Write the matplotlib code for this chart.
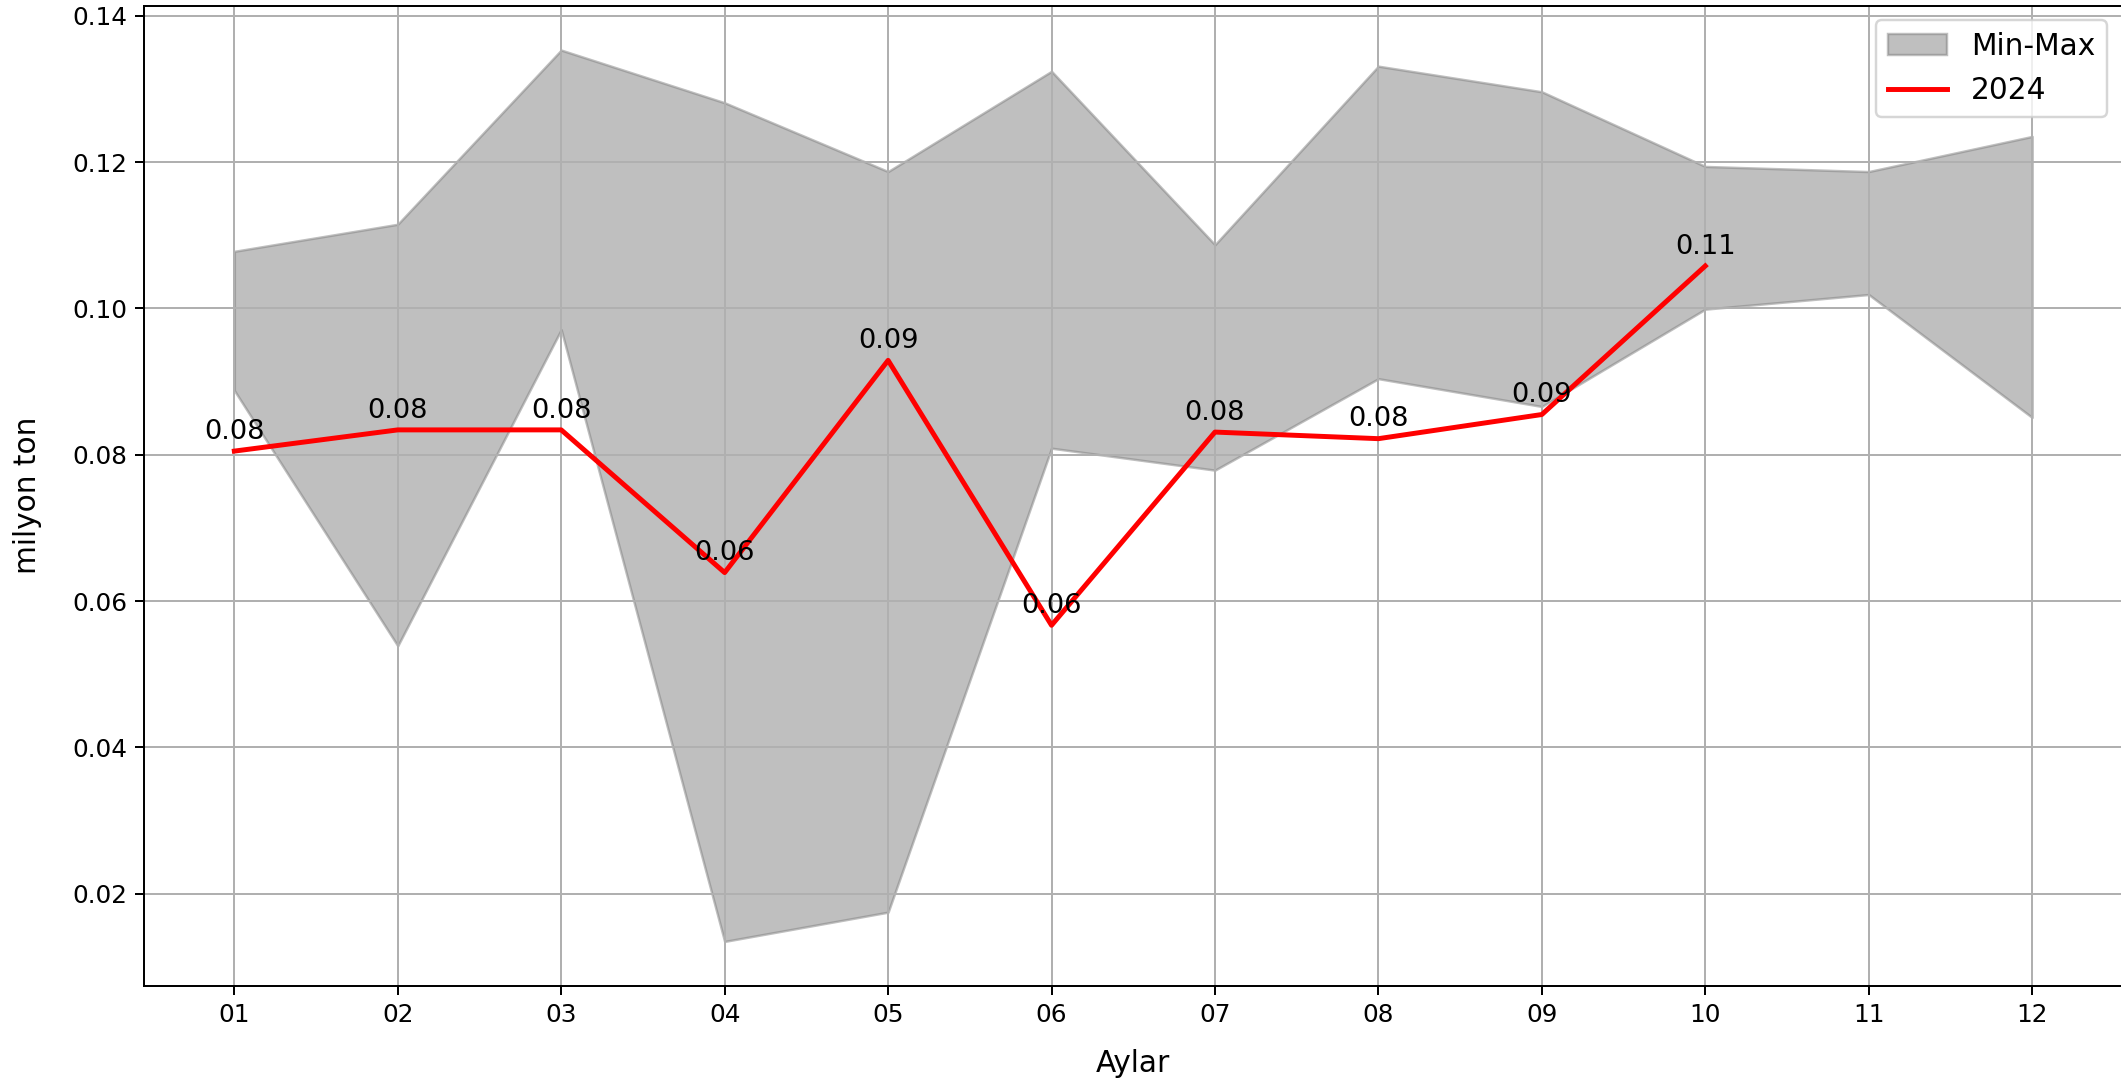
import matplotlib.pyplot as plt

months = ['01', '02', '03', '04', '05', '06', '07', '08', '09', '10', '11', '12']
min_vals = [0.0888, 0.0539, 0.0971, 0.0135, 0.0175, 0.0809,
            0.0779, 0.0904, 0.0866, 0.0999, 0.1019, 0.0851]
max_vals = [0.1078, 0.1115, 0.1353, 0.1281, 0.1187, 0.1324,
            0.1087, 0.1331, 0.1296, 0.1194, 0.1187, 0.1235]
values_2024 = [0.0805, 0.0834, 0.0834, 0.0639, 0.0929, 0.0567,
               0.0831, 0.0822, 0.0855, 0.1058]

dpi = 178
fig = plt.figure(figsize=(2121 / dpi, 1081 / dpi), dpi=dpi)
ax = fig.add_axes([0.0681, 0.0879, 0.9324, 0.907])

ax.fill_between(months, min_vals, max_vals, color='gray', alpha=0.5, label='Min-Max')
ax.plot(months[:len(values_2024)], values_2024, color='red', linewidth=2, label='2024')

# etiketler
for m, v in zip(months, values_2024):
    ax.annotate(f'{v:.2f}', (m, v), textcoords='offset points', xytext=(0, 5),
                ha='center', fontsize=11)

ax.set_xlabel('Aylar', fontsize=12)
ax.set_ylabel('milyon ton', fontsize=12)
ax.xaxis.set_label_coords(0.5, -0.064)
ax.yaxis.set_label_coords(-0.052, 0.5)
ax.grid(True)
ax.legend(loc='upper right', fontsize=12)

fig.savefig('out.png', dpi=dpi)
